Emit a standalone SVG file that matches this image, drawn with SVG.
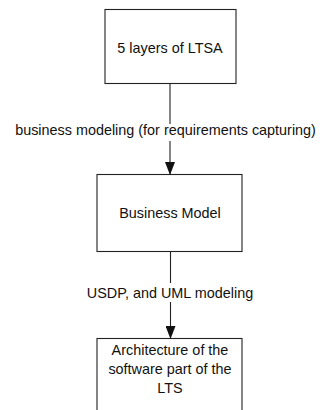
<svg xmlns="http://www.w3.org/2000/svg" width="324" height="410" viewBox="0 0 324 410">
<style>
.box{fill:#fff;stroke:#222;stroke-width:1.1}
.t{font-family:"Liberation Sans",Arial,sans-serif;font-size:14.4px;fill:#111;text-anchor:middle}
.c{fill:none;stroke:#222;stroke-width:1.1}
</style>
<defs>
<marker id="ah" viewBox="0 0 13 10" refX="13" refY="5" markerWidth="13" markerHeight="10" markerUnits="userSpaceOnUse" orient="auto">
<path d="M0,0 L13,5 L0,10 Z" fill="#111"/>
</marker>
</defs>
<rect width="324" height="410" fill="#fff"/>
<g id="ltsa">
<rect class="box" x="105" y="9.5" width="131" height="74"/>
<text class="t" x="170" y="53">5 layers of LTSA</text>
</g>
<g id="business-model">
<rect class="box" x="97" y="174.5" width="145" height="77"/>
<text class="t" x="170" y="217.5">Business Model</text>
</g>
<g id="architecture">
<rect class="box" x="97" y="338.5" width="145" height="90"/>
<text class="t" x="170" y="355">Architecture of the</text>
<text class="t" x="170" y="374">software part of the</text>
<text class="t" x="170" y="393">LTS</text>
</g>
<g id="connectors">
<path class="c" d="M170,83 V124"/>
<path class="c" d="M170,141 V175" marker-end="url(#ah)"/>
<text class="t" x="165.5" y="135">business modeling (for requirements capturing)</text>
<path class="c" d="M170.5,251 V283"/>
<path class="c" d="M170.5,302 V339" marker-end="url(#ah)"/>
<text class="t" x="170" y="297.5">USDP, and UML modeling</text>
</g>
</svg>
